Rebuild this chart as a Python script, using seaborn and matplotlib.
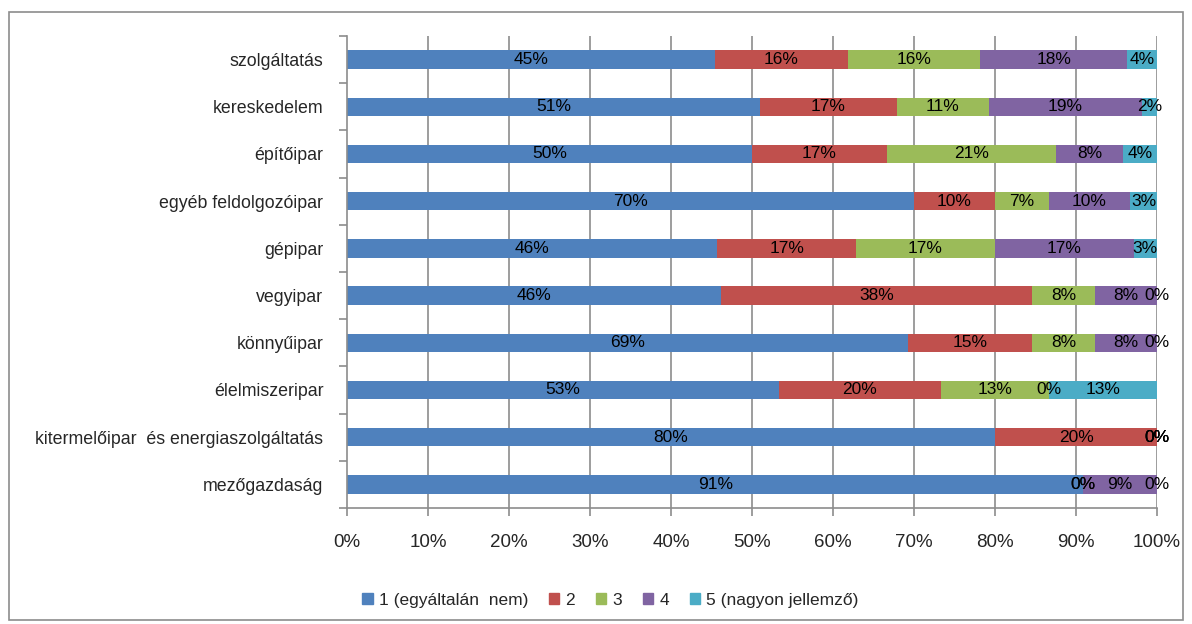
import numpy as np
import pandas as pd
import matplotlib
matplotlib.use("Agg")
import matplotlib.pyplot as plt
import matplotlib.patches as mpatches
from matplotlib.ticker import FixedLocator, PercentFormatter
import seaborn as sns

# Sectors (top to bottom) and share of answers per rating, in percent
sectors = [
    "szolgáltatás",
    "kereskedelem",
    "építőipar",
    "egyéb feldolgozóipar",
    "gépipar",
    "vegyipar",
    "könnyűipar",
    "élelmiszeripar",
    "kitermelőipar  és energiaszolgáltatás",
    "mezőgazdaság",
]
r1 = [45.45, 50.94, 50.00, 70.00, 45.71, 46.15, 69.23, 53.33, 80.00, 90.91]
r2 = [16.36, 16.98, 16.67, 10.00, 17.14, 38.46, 15.38, 20.00, 20.00, 0.00]
r3 = [16.36, 11.32, 20.83, 6.67, 17.14, 7.69, 7.69, 13.33, 0.00, 0.00]
r4 = [18.18, 18.87, 8.33, 10.00, 17.14, 7.69, 7.69, 0.00, 0.00, 9.09]
r5 = [3.64, 1.89, 4.17, 3.33, 2.86, 0.00, 0.00, 13.33, 0.00, 0.00]

series_names = ["1 (egyáltalán  nem)", "2", "3", "4", "5 (nagyon jellemző)"]
series_colors = ["#4F81BD", "#C0504D", "#9BBB59", "#8064A2", "#4BACC6"]

sns.set_theme(style="white")
plt.rcParams["font.family"] = ["Liberation Sans", "DejaVu Sans"]

df = pd.DataFrame({"sector": sectors, "r1": r1, "r2": r2, "r3": r3, "r4": r4, "r5": r5})
keys = ["r1", "r2", "r3", "r4", "r5"]
cum = df[keys].cumsum(axis=1)

fig = plt.figure(figsize=(11.92, 6.24), dpi=100)
ax = fig.add_axes([347 / 1192, 1 - 508 / 624, (1157 - 347) / 1192, (508 - 36) / 624])

# vertical gridlines behind the bars
ax.set_axisbelow(True)
for g in range(10, 101, 10):
    ax.axvline(g, color="#8C8C8C", lw=1.2, zorder=0)

# stacked bars: draw cumulative totals from the last rating to the first
for k, col in zip(reversed(keys), reversed(series_colors)):
    sns.barplot(x=cum[k], y=df["sector"], color=col, width=0.39, orient="h",
                ax=ax, saturation=1, edgecolor="none", zorder=2)

# value labels at segment centres
for i in range(len(sectors)):
    left = 0.0
    for k in keys:
        v = df.loc[i, k]
        ax.text(left + v / 2, i, f"{round(v):.0f}%", ha="center", va="center",
                fontsize=12.5, color="black", zorder=5)
        left += v

ax.set_xlim(0, 100)
ax.set_ylim(9.5, -0.5)
ax.set_xlabel("")
ax.set_ylabel("")
ax.xaxis.set_major_locator(FixedLocator(np.arange(0, 101, 10)))
ax.xaxis.set_major_formatter(PercentFormatter(decimals=0))
ax.yaxis.set_minor_locator(FixedLocator(np.arange(-0.5, 10, 1)))
ax.tick_params(axis="x", which="major", direction="out", length=6, width=1.2,
               color="#8C8C8C", pad=13, labelsize=13.5, bottom=True)
ax.tick_params(axis="y", which="major", length=0, pad=17, labelsize=12.8, left=False)
ax.tick_params(axis="y", which="minor", direction="out", length=6, width=1.2,
               color="#8C8C8C", left=True)
for s in ["top", "right"]:
    ax.spines[s].set_visible(False)
for s in ["left", "bottom"]:
    ax.spines[s].set_color("#8C8C8C")
    ax.spines[s].set_linewidth(1.2)

handles = [mpatches.Patch(color=c, label=n) for c, n in zip(series_colors, series_names)]
fig.legend(handles=handles, loc="center", bbox_to_anchor=(0.512, 0.038), ncol=5,
           frameon=False, fontsize=12.5, handlelength=0.6, handleheight=0.6,
           handletextpad=0.35, columnspacing=1.2)

# outer chart border
fig.patches.append(mpatches.Rectangle((9 / 1192, 1 - 620 / 624), (1183 - 9) / 1192,
                                      (620 - 12) / 624, transform=fig.transFigure,
                                      fill=False, edgecolor="#8C8C8C", lw=1.2))

fig.savefig("out.png", dpi=100)
